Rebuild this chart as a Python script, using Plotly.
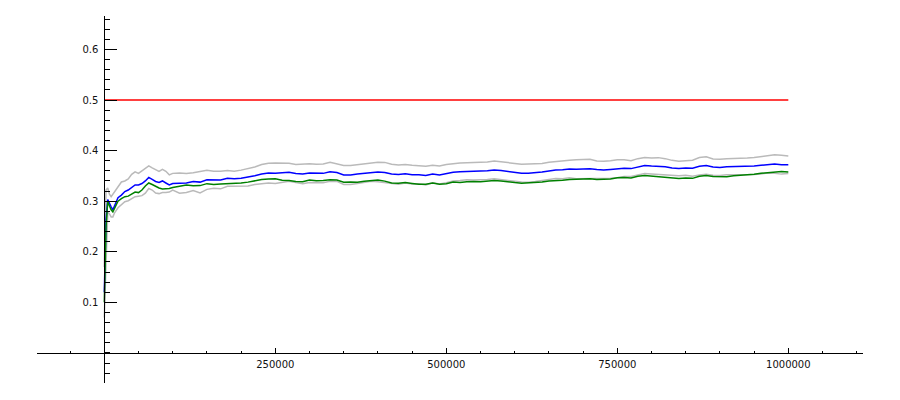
import plotly.graph_objects as go

# x positions (number of samples)
x_vals = [0, 2500, 5000, 7500, 10000, 12500, 15000, 20000, 25000, 30000, 35000, 40000,
          45000, 50000, 55000, 60000, 65000, 70000, 75000, 80000, 85000, 90000, 95000, 100000] + \
         [110000 + 10000 * i for i in range(90)]

blue_vals = [0.120, 0.263, 0.303, 0.295, 0.289, 0.283, 0.291, 0.307, 0.312, 0.319, 0.322, 0.327,
             0.332, 0.332, 0.335, 0.340, 0.347, 0.343, 0.339, 0.337, 0.340, 0.336, 0.332, 0.335,
             0.3357, 0.3359, 0.3387, 0.3377, 0.3423, 0.3423, 0.3417, 0.3451, 0.3443, 0.3453,
             0.3473, 0.3503, 0.3538, 0.3556, 0.3552, 0.3562, 0.3572, 0.3546, 0.3538, 0.3556,
             0.3546, 0.3550, 0.3582, 0.3566, 0.3519, 0.3519, 0.3536, 0.3554, 0.3568, 0.3578,
             0.3568, 0.3536, 0.3526, 0.3542, 0.3524, 0.3523, 0.3507, 0.3536, 0.3519, 0.3546,
             0.3572, 0.3582, 0.3592, 0.3592, 0.3598, 0.3602, 0.3618, 0.3606, 0.3588, 0.3570,
             0.3554, 0.3552, 0.3562, 0.3578, 0.3598, 0.3618, 0.3622, 0.3638, 0.3632, 0.3632,
             0.3642, 0.3625, 0.3616, 0.3628, 0.3642, 0.3652, 0.3644, 0.3682, 0.3706, 0.3696,
             0.3696, 0.3682, 0.3656, 0.3646, 0.3656, 0.3652, 0.3690, 0.3704, 0.3674, 0.3668,
             0.3682, 0.3682, 0.3694, 0.3696, 0.3696, 0.3710, 0.3729, 0.3735, 0.3721, 0.3721]

green_vals = [0.100, 0.249, 0.299, 0.289, 0.283, 0.279, 0.287, 0.300, 0.305, 0.309, 0.310, 0.314,
              0.318, 0.317, 0.322, 0.330, 0.336, 0.333, 0.329, 0.326, 0.324, 0.324, 0.325, 0.327,
              0.3290, 0.3320, 0.3304, 0.3308, 0.3347, 0.3331, 0.3339, 0.3343, 0.3343, 0.3359,
              0.3377, 0.3407, 0.3427, 0.3437, 0.3445, 0.3415, 0.3409, 0.3387, 0.3383, 0.3419,
              0.3403, 0.3407, 0.3423, 0.3417, 0.3373, 0.3379, 0.3375, 0.3395, 0.3409, 0.3417,
              0.3397, 0.3359, 0.3353, 0.3367, 0.3351, 0.3333, 0.3333, 0.3357, 0.3333, 0.3343,
              0.3377, 0.3369, 0.3383, 0.3391, 0.3383, 0.3403, 0.3409, 0.3401, 0.3379, 0.3369,
              0.3357, 0.3363, 0.3373, 0.3379, 0.3399, 0.3403, 0.3413, 0.3427, 0.3429, 0.3439,
              0.3443, 0.3429, 0.3429, 0.3441, 0.3461, 0.3469, 0.3459, 0.3491, 0.3507, 0.3497,
              0.3483, 0.3469, 0.3457, 0.3447, 0.3457, 0.3451, 0.3491, 0.3507, 0.3487, 0.3483,
              0.3483, 0.3503, 0.3509, 0.3519, 0.3532, 0.3550, 0.3566, 0.3586, 0.3588, 0.3578]

upper_vals = [0.170, 0.322, 0.326, 0.314, 0.309, 0.314, 0.318, 0.330, 0.338, 0.340, 0.344, 0.353,
              0.358, 0.355, 0.360, 0.365, 0.370, 0.366, 0.362, 0.359, 0.363, 0.359, 0.352, 0.355,
              0.3556, 0.3546, 0.3562, 0.3590, 0.3612, 0.3592, 0.3590, 0.3608, 0.3590, 0.3614,
              0.3646, 0.3676, 0.3725, 0.3751, 0.3755, 0.3753, 0.3751, 0.3725, 0.3731, 0.3741,
              0.3731, 0.3737, 0.3769, 0.3741, 0.3706, 0.3706, 0.3722, 0.3737, 0.3741, 0.3771,
              0.3767, 0.3729, 0.3715, 0.3725, 0.3710, 0.3702, 0.3692, 0.3710, 0.3698, 0.3725,
              0.3745, 0.3755, 0.3761, 0.3763, 0.3777, 0.3777, 0.3793, 0.3781, 0.3769, 0.3747,
              0.3729, 0.3731, 0.3737, 0.3745, 0.3771, 0.3789, 0.3801, 0.3811, 0.3819, 0.3819,
              0.3827, 0.3795, 0.3787, 0.3801, 0.3821, 0.3817, 0.3801, 0.3841, 0.3865, 0.3855,
              0.3861, 0.3841, 0.3807, 0.3791, 0.3801, 0.3811, 0.3863, 0.3877, 0.3835, 0.3827,
              0.3841, 0.3841, 0.3855, 0.3855, 0.3863, 0.3881, 0.3901, 0.3917, 0.3907, 0.3895]

lower_vals = [0.070, 0.203, 0.279, 0.275, 0.269, 0.269, 0.277, 0.287, 0.293, 0.299, 0.301, 0.305,
              0.309, 0.310, 0.311, 0.316, 0.325, 0.322, 0.316, 0.315, 0.317, 0.317, 0.318, 0.322,
              0.3158, 0.3172, 0.3212, 0.3164, 0.3234, 0.3254, 0.3244, 0.3294, 0.3296, 0.3292,
              0.3300, 0.3330, 0.3351, 0.3361, 0.3349, 0.3371, 0.3393, 0.3367, 0.3345, 0.3371,
              0.3361, 0.3363, 0.3395, 0.3391, 0.3332, 0.3332, 0.3350, 0.3371, 0.3395, 0.3385,
              0.3369, 0.3343, 0.3337, 0.3359, 0.3338, 0.3344, 0.3322, 0.3362, 0.3340, 0.3367,
              0.3399, 0.3409, 0.3423, 0.3421, 0.3419, 0.3427, 0.3443, 0.3431, 0.3407, 0.3393,
              0.3379, 0.3373, 0.3387, 0.3411, 0.3425, 0.3447, 0.3443, 0.3465, 0.3445, 0.3445,
              0.3457, 0.3455, 0.3445, 0.3455, 0.3463, 0.3487, 0.3487, 0.3523, 0.3547, 0.3537,
              0.3531, 0.3523, 0.3505, 0.3501, 0.3511, 0.3493, 0.3517, 0.3531, 0.3513, 0.3509,
              0.3523, 0.3523, 0.3533, 0.3537, 0.3529, 0.3539, 0.3557, 0.3553, 0.3535, 0.3547]

red_x = [0, 1000000]
red_vals = [0.5, 0.5]

x_tickvals = [250000, 500000, 750000, 1000000]
x_ticktext = ["250000", "500000", "750000", "1000000"]
y_tickvals = [0.1, 0.2, 0.3, 0.4, 0.5, 0.6]
y_ticktext = ["0.1", "0.2", "0.3", "0.4", "0.5", "0.6"]

X_RANGE = [-98400, 1109200]
Y_RANGE = [-0.0593, 0.666]

GRAY = "#bababa"
fig = go.Figure()
fig.add_trace(go.Scatter(x=x_vals, y=upper_vals, mode="lines", line=dict(color=GRAY, width=1.5)))
fig.add_trace(go.Scatter(x=x_vals, y=lower_vals, mode="lines", line=dict(color=GRAY, width=1.5)))
fig.add_trace(go.Scatter(x=x_vals, y=blue_vals, mode="lines", line=dict(color="#0000ff", width=1.5)))
fig.add_trace(go.Scatter(x=x_vals, y=green_vals, mode="lines", line=dict(color="#008000", width=1.5)))
fig.add_trace(go.Scatter(x=red_x, y=red_vals, mode="lines", line=dict(color="#ff0000", width=1.5)))

xpos = (0 - Y_RANGE[0]) / (Y_RANGE[1] - Y_RANGE[0])
ypos = (0 - X_RANGE[0]) / (X_RANGE[1] - X_RANGE[0])

font = dict(family="DejaVu Sans", size=10, color="#111111")
fig.update_layout(
    width=900, height=400,
    margin=dict(l=37, r=37, t=16, b=17),
    paper_bgcolor="white", plot_bgcolor="white",
    showlegend=False,
    font=font,
    xaxis=dict(range=X_RANGE, domain=[0, 1], anchor="free", position=xpos,
               showgrid=False, zeroline=False, showline=True, linecolor="black", linewidth=1,
               ticks="inside", ticklen=5, tickwidth=1, tickcolor="black",
               tickvals=x_tickvals, ticktext=x_ticktext, tickfont=font,
               ticklabelstandoff=2,
               minor=dict(dtick=50000, tick0=0, ticks="inside", ticklen=2, tickwidth=1,
                          tickcolor="black", showgrid=False)),
    yaxis=dict(range=Y_RANGE, domain=[0, 1], anchor="free", position=ypos, side="left",
               showgrid=False, zeroline=False, showline=True, linecolor="black", linewidth=1,
               ticks="inside", ticklen=12, tickwidth=1, tickcolor="black",
               tickvals=y_tickvals, ticktext=y_ticktext, tickfont=font,
               ticklabelstandoff=4,
               minor=dict(dtick=0.02, tick0=0, ticks="inside", ticklen=5, tickwidth=1,
                          tickcolor="black", showgrid=False)),
)

fig.write_html("out.html", config={"displayModeBar": False},
               post_script="document.body.style.margin='0';document.body.style.overflow='hidden';")
